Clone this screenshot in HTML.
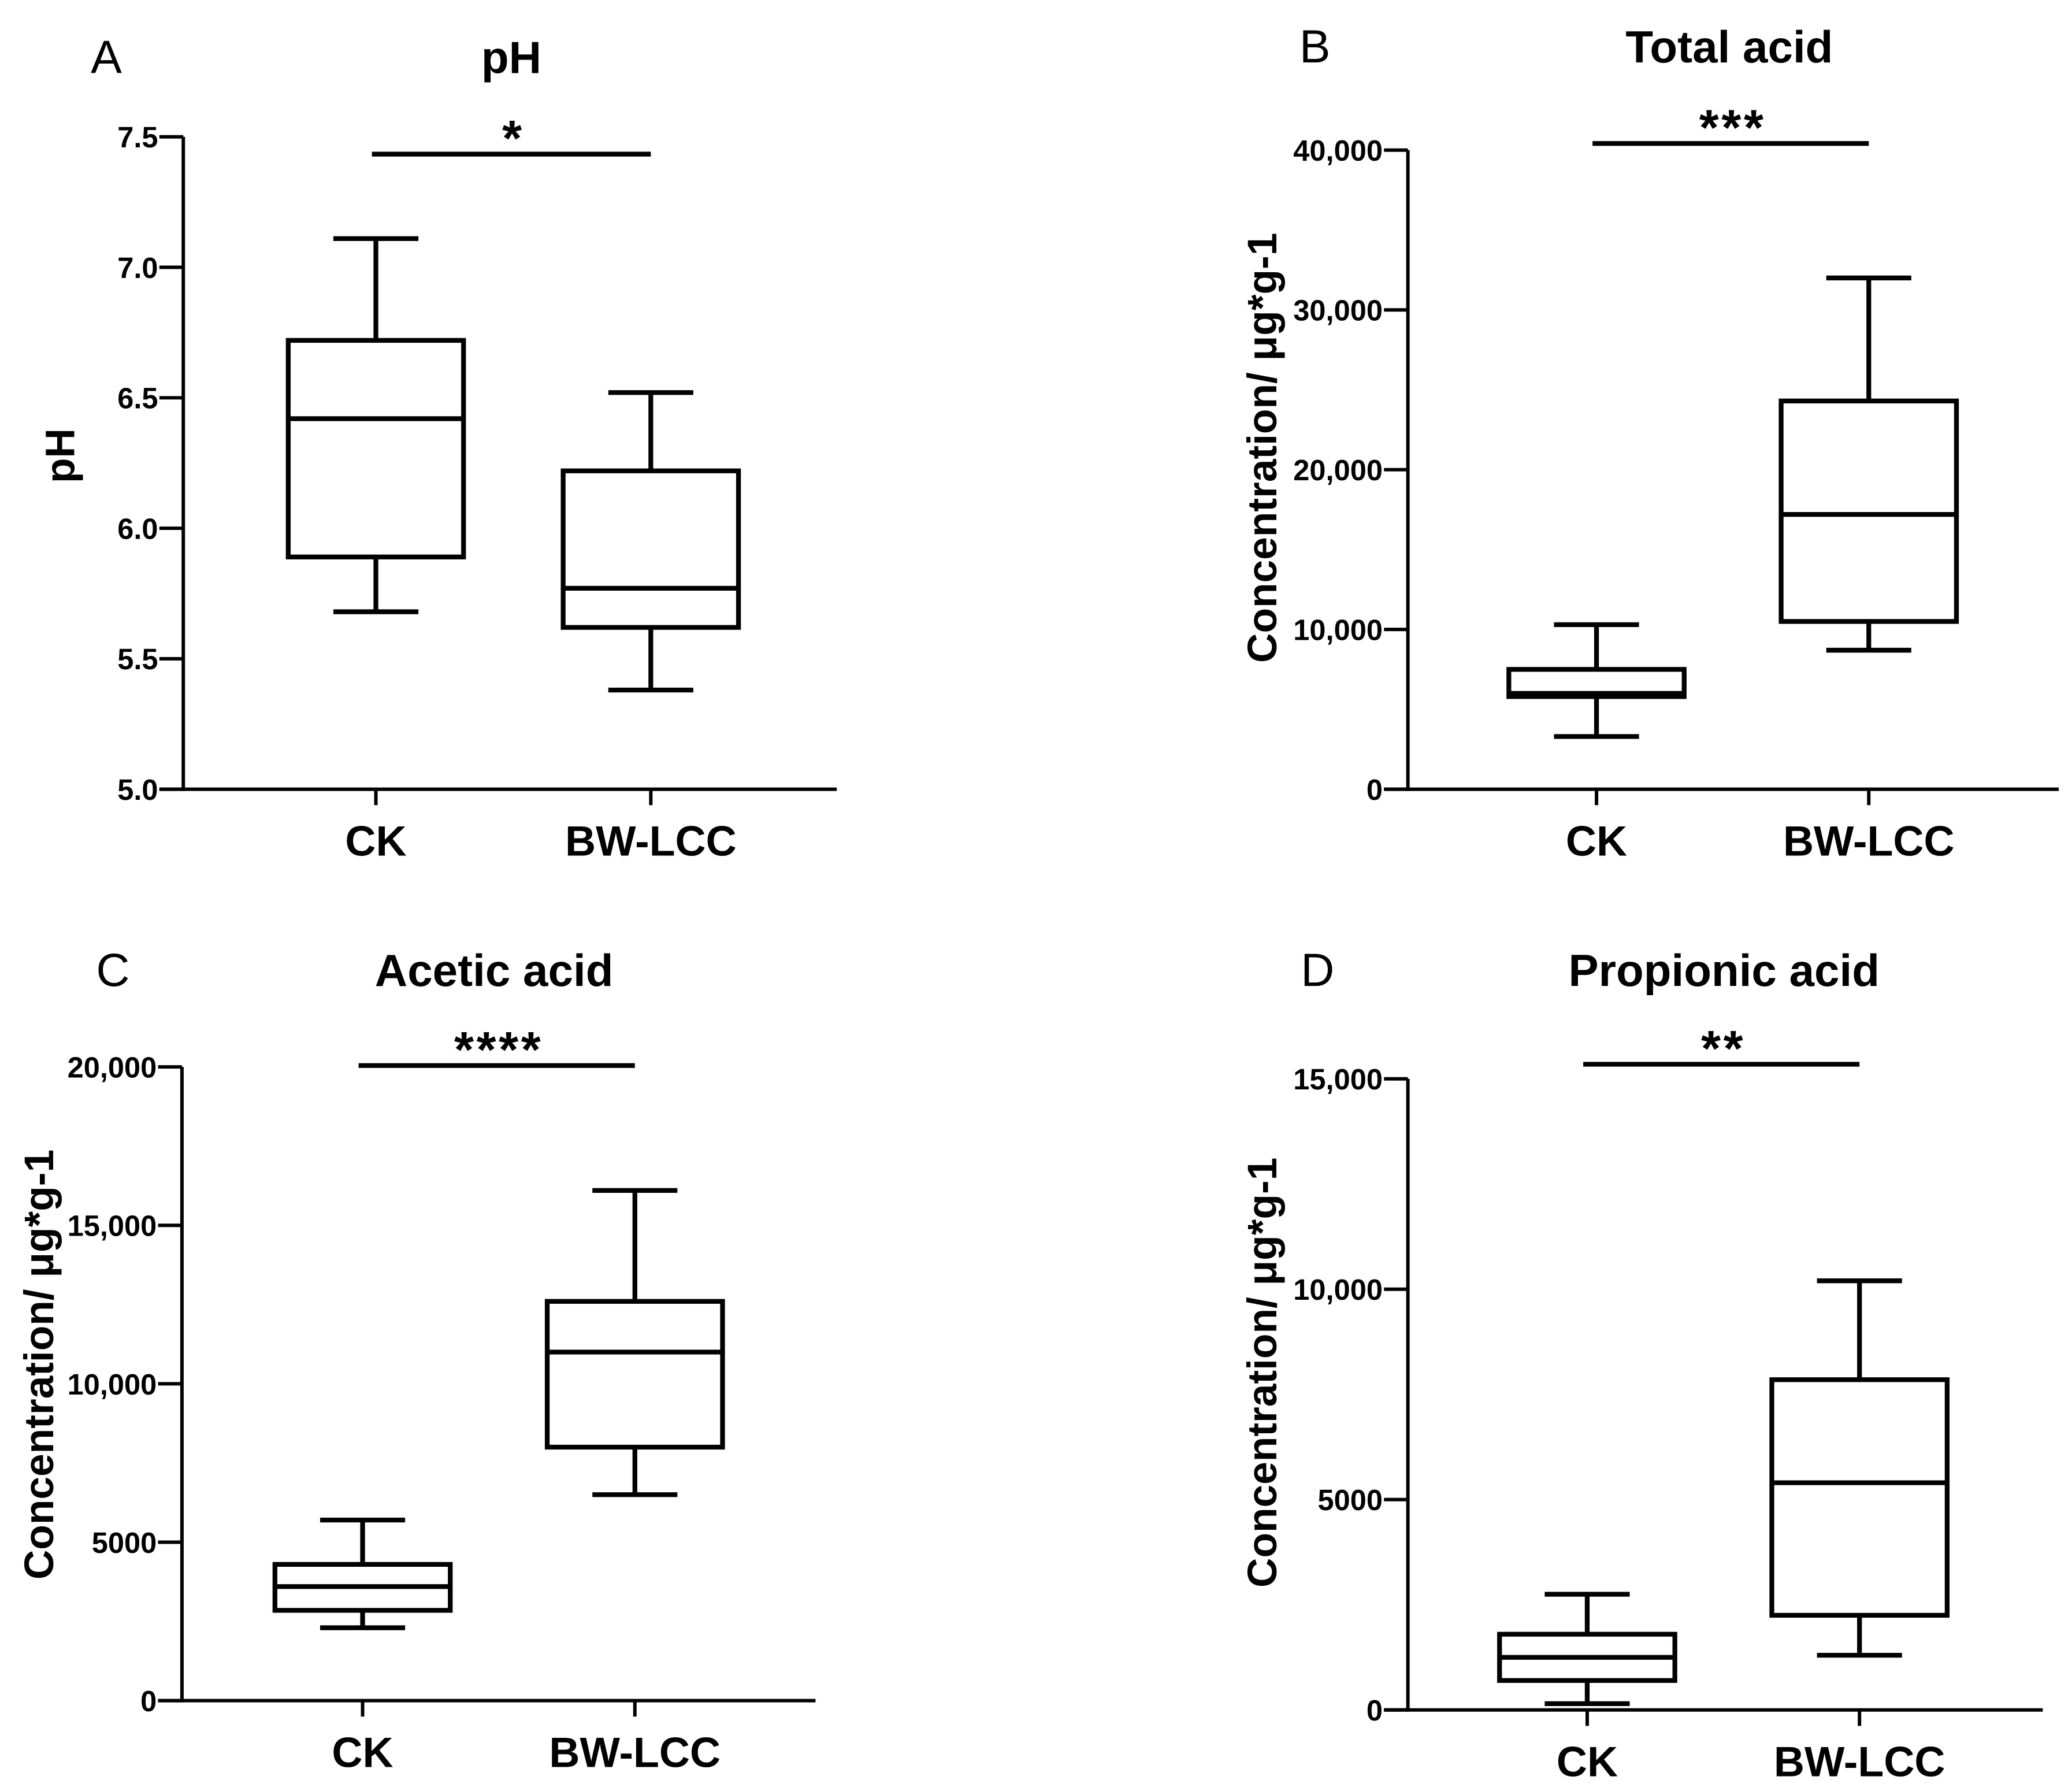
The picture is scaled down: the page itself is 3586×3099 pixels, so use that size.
<!DOCTYPE html>
<html><head><meta charset="utf-8"><style>
html,body{margin:0;padding:0;background:#fff}
svg{display:block}
text{font-family:"Liberation Sans",Arial,sans-serif;fill:#000}
</style></head><body>
<svg id="fig" width="3586" height="3099" viewBox="0 0 1560 1348" preserveAspectRatio="none" xmlns="http://www.w3.org/2000/svg"></svg>
<script>
const categories = ["CK", "BW-LCC"];
// [whiskerLow, q1, median, q3, whiskerHigh]
const phValues = [[5.68, 5.89, 6.42, 6.72, 7.11], [5.38, 5.62, 5.77, 6.22, 6.52]];
const totalAcidValues = [[3300, 5800, 6000, 7500, 10300], [8700, 10500, 17200, 24300, 32000]];
const aceticValues = [[2300, 2850, 3600, 4300, 5700], [6500, 8000, 11000, 12600, 16100]];
const propionicValues = [[150, 700, 1250, 1800, 2750], [1300, 2250, 5400, 7850, 10200]];
const phTicks = [5.0, 5.5, 6.0, 6.5, 7.0, 7.5];
const totalTicks = [0, 10000, 20000, 30000, 40000];
const aceticTicks = [0, 5000, 10000, 15000, 20000];
const propTicks = [0, 5000, 10000, 15000];
const phTickLabels = ["5.0", "5.5", "6.0", "6.5", "7.0", "7.5"];
const totalTickLabels = ["0", "10,000", "20,000", "30,000", "40,000"];
const aceticTickLabels = ["0", "5000", "10,000", "15,000", "20,000"];
const propTickLabels = ["0", "5000", "10,000", "15,000"];
const sigLabels = ["*", "***", "****", "**"];

const NS = "http://www.w3.org/2000/svg";
const svg = document.getElementById("fig");
function el(tag, attrs, parent, txt) {
  const e = document.createElementNS(NS, tag);
  for (const k in attrs) e.setAttribute(k, attrs[k]);
  if (txt !== undefined) e.textContent = txt;
  (parent || svg).appendChild(e);
  return e;
}
const LW = 3.6;

function panel(p) {
  const g = el("g", {});
  
  
  const y = v => p.y0 + (v - p.ymin) / (p.ymax - p.ymin) * (p.y1 - p.y0);
  const lt = el("text", {x: p.letterX, y: p.titleY, "font-size": 35, "text-anchor": "middle"}, g, p.letter);
  
  
  const tt = el("text", {x: p.titleX, y: p.titleY, "font-size": 34, "font-weight": "bold", "text-anchor": "middle"}, g, p.title);
  
  
  const ya = el("line", {x1: p.ax, x2: p.ax, y1: y(p.ymin) + 1.3, y2: y(p.ymax), stroke: "#000", "stroke-width": 2.6}, g);
  
  
  const xa = el("line", {x1: p.ax - 18, x2: p.axEnd, y1: y(p.ymin), y2: y(p.ymin), stroke: "#000", "stroke-width": 2.6}, g);
  
  
  p.ticks.forEach((t, i) => {
    const tl = el("line", {x1: p.ax - 18, x2: p.ax, y1: y(t), y2: y(t), stroke: "#000", "stroke-width": 2.6}, g);
    
    
    const tx = el("text", {x: p.ax - 19, y: y(t) + 8, "font-size": 22, "font-weight": "bold", "text-anchor": "end"}, g, p.tickLabels[i]);
    
    
  });
  const yl = el("text", {x: p.ylabelX, y: p.ylabelY, "font-size": 31, "font-weight": "bold", "text-anchor": "middle", transform: `rotate(-90 ${p.ylabelX} ${p.ylabelY})`}, g, p.ylabel);
  
  
  categories.forEach((c, i) => {
    const cx = p.cx[i];
    const xt = el("line", {x1: cx, x2: cx, y1: y(p.ymin), y2: y(p.ymin) + 12, stroke: "#000", "stroke-width": 2.6}, g);
    
    
    const cl = el("text", {x: cx, y: y(p.ymin) + 50, "font-size": 32, "font-weight": "bold", "text-anchor": "middle"}, g, c);
    
    
    const v = p.values[i];
    const bg = el("g", {stroke: "#000", "stroke-width": LW, fill: "none"}, g);
    
    
    el("line", {x1: cx, x2: cx, y1: y(v[0]), y2: y(v[1])}, bg);
    el("line", {x1: cx, x2: cx, y1: y(v[3]), y2: y(v[4])}, bg);
    el("line", {x1: cx - 32, x2: cx + 32, y1: y(v[0]), y2: y(v[0])}, bg);
    el("line", {x1: cx - 32, x2: cx + 32, y1: y(v[4]), y2: y(v[4])}, bg);
    el("rect", {x: cx - 66, y: y(v[3]), width: 132, height: y(v[1]) - y(v[3]), fill: "#fff"}, bg);
    el("line", {x1: cx - 66, x2: cx + 66, y1: y(v[2]), y2: y(v[2])}, bg);
  });
  const sl = el("line", {x1: p.cx[0] - 3, x2: p.cx[1], y1: p.sigY, y2: p.sigY, stroke: "#000", "stroke-width": LW}, g);
  
  
  const st = el("text", {x: (p.cx[0] + p.cx[1]) / 2, y: p.sigY + 1, "font-size": 38, "font-weight": "bold", "text-anchor": "middle", "letter-spacing": 2}, g, p.sig);
  
  
}

panel({name: "panel-a-ph", letter: "A", letterX: 80, title: "pH", titleX: 385, titleY: 55,
  ax: 138, axEnd: 630, y0: 594, y1: 103, ymin: 5.0, ymax: 7.5, ticks: phTicks, tickLabels: phTickLabels,
  cx: [283, 490], values: phValues, sigY: 116, sig: sigLabels[0], ylabel: "pH", ylabelX: 56, ylabelY: 343});
panel({name: "panel-b-total-acid", letter: "B", letterX: 990, title: "Total acid", titleX: 1302, titleY: 47,
  ax: 1060, axEnd: 1550, y0: 594, y1: 113, ymin: 0, ymax: 40000, ticks: totalTicks, tickLabels: totalTickLabels,
  cx: [1202, 1407], values: totalAcidValues, sigY: 108, sig: sigLabels[1], ylabel: "Concentration/ μg*g-1", ylabelX: 961, ylabelY: 337});
panel({name: "panel-c-acetic-acid", letter: "C", letterX: 85, title: "Acetic acid", titleX: 372, titleY: 742,
  ax: 137, axEnd: 614, y0: 1280, y1: 803, ymin: 0, ymax: 20000, ticks: aceticTicks, tickLabels: aceticTickLabels,
  cx: [273, 478], values: aceticValues, sigY: 802, sig: sigLabels[2], ylabel: "Concentration/ μg*g-1", ylabelX: 40, ylabelY: 1027});
panel({name: "panel-d-propionic-acid", letter: "D", letterX: 992, title: "Propionic acid", titleX: 1298, titleY: 742,
  ax: 1060, axEnd: 1538, y0: 1287, y1: 812, ymin: 0, ymax: 15000, ticks: propTicks, tickLabels: propTickLabels,
  cx: [1195, 1400], values: propionicValues, sigY: 801, sig: sigLabels[3], ylabel: "Concentration/ μg*g-1", ylabelX: 961, ylabelY: 1033});
</script>
</body></html>
